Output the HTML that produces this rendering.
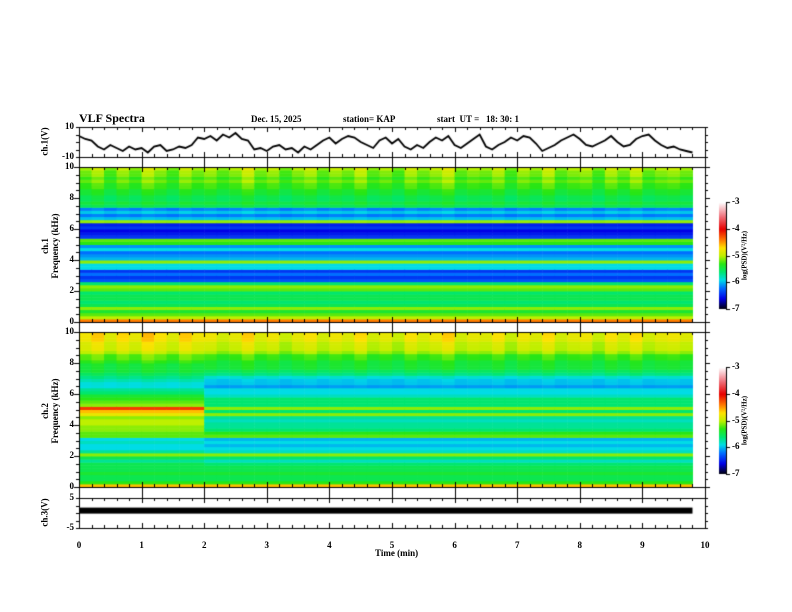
<!DOCTYPE html>
<html><head><meta charset="utf-8">
<style>
html,body{margin:0;padding:0;background:#fff;}
#wrap{position:relative;width:792px;height:612px;overflow:hidden;font-family:"Liberation Serif",serif;font-weight:bold;color:#000;}
.t{position:absolute;white-space:nowrap;font-size:9px;line-height:1;}
.r{transform:rotate(-90deg);transform-origin:center;text-align:center;}
canvas{position:absolute;left:0;top:0;}
</style></head>
<body>
<div id="wrap">
<canvas id="cv" width="792" height="612"></canvas>
<div class="t" style="left:79px;top:112px;font-size:12px;">VLF Spectra</div>
<div class="t" style="left:251px;top:115px;">Dec. 15, 2025</div>
<div class="t" style="left:343px;top:115px;">station= KAP</div>
<div class="t" style="left:437px;top:115px;">start &nbsp;UT = &nbsp; 18: 30: 1</div>
<div class="t r" style="left:20px;top:137px;width:50px;">ch.1(V)</div>
<div class="t r" style="left:0px;top:236px;width:100px;line-height:10px;">ch.1<br>Frequency (kHz)</div>
<div class="t r" style="left:0px;top:401px;width:100px;line-height:10px;">ch.2<br>Frequency (kHz)</div>
<div class="t r" style="left:20px;top:508px;width:50px;">ch.3(V)</div>
<div class="t" style="left:375px;top:549px;">Time (min)</div>
<div class="t r" style="left:710px;top:252px;width:70px;font-size:7px;">log(PSD)(V²/Hz)</div>
<div class="t r" style="left:710px;top:417px;width:70px;font-size:7px;">log(PSD)(V²/Hz)</div>
<div id="labels"></div>
</div>
<script>
// ---- data ----
const timeTicks=[0,1,2,3,4,5,6,7,8,9,10];
const freqTicks=[0,2,4,6,8,10];
const cbTicks=[-3,-4,-5,-6,-7];
// ch1 waveform (V), every 0.1 min from 0 to 9.8
const ch1Wave=[4,2,1,-3,-5,-2,-4,-6,-3,-5,-4,-7,-3,-2,-6,-5,-3,-4,-2,3,2,4,1,5,3,6,2,1,-5,-4,-6,-3,-2,-5,-4,-7,-3,-5,-2,1,3,-1,2,4,3,0,-2,-4,1,3,-1,2,-3,-5,-2,-4,0,3,1,4,-2,-4,-1,2,5,-3,-5,-2,0,3,1,4,3,-1,-6,-4,-2,1,3,5,2,-2,-3,-1,1,4,0,-3,-2,2,4,5,1,-2,-4,-3,-5,-6,-7];
// ch1 PSD profile per 0.2 kHz bin (0..10 kHz), log10
const ch1Psd=[-4.4,-5.0,-5.2,-5.4,-5.1,-5.5,-5.6,-5.5,-5.5,-5.6,-5.2,-5.1,-5.6,-6.3,-6.4,-6.2,-6.4,-5.9,-5.9,-5.1,-6.0,-6.1,-6.2,-5.9,-6.1,-5.3,-5.2,-6.4,-6.5,-6.6,-6.4,-6.5,-5.1,-6.0,-6.2,-6.0,-6.2,-5.6,-5.5,-5.6,-5.6,-5.5,-5.5,-5.4,-5.4,-5.3,-5.4,-5.3,-5.3,-5.2];
// ch2 PSD profile, before and after the 2-min transition
const ch2Early=[-4.6,-5.3,-5.5,-5.5,-5.4,-5.5,-5.5,-5.5,-5.7,-5.5,-5.1,-5.7,-5.9,-5.9,-5.8,-5.9,-5.2,-5.2,-5.1,-5.1,-5.0,-5.0,-5.1,-4.8,-4.6,-4.2,-5.1,-5.2,-5.3,-5.4,-5.6,-5.7,-5.9,-5.9,-5.8,-5.7,-5.6,-5.5,-5.5,-5.5,-5.4,-5.3,-5.3,-5.1,-5.0,-5.0,-5.0,-4.9,-4.9,-4.9];
const ch2Late=[-4.6,-5.3,-5.5,-5.5,-5.4,-5.5,-5.5,-5.6,-5.8,-5.6,-5.1,-5.8,-5.9,-6.0,-5.9,-6.0,-5.2,-5.3,-5.6,-5.7,-5.7,-5.8,-5.7,-5.1,-5.6,-5.1,-5.6,-5.6,-5.6,-5.8,-5.9,-5.9,-6.1,-6.0,-6.0,-5.9,-5.7,-5.6,-5.5,-5.5,-5.5,-5.4,-5.4,-5.2,-5.1,-5.1,-5.1,-5.0,-5.0,-5.0];
const ch2Transition=2.0;
// impulsive activity per 0.2-min column (adds to upper frequencies)
const sferics=[0.3,0.6,0.1,0.5,0.2,0.7,0.4,0.1,0.6,0.3,0.5,0.2,0.4,0.8,0.3,0.5,0.1,0.4,0.6,0.2,0.5,0.3,0.7,0.2,0.4,0.1,0.6,0.3,0.5,0.8,0.2,0.4,0.3,0.6,0.1,0.5,0.3,0.7,0.2,0.4,0.5,0.1,0.6,0.3,0.7,0.2,0.4,0.5,0.3];
const ch3Level=0.8;
const tMax=9.8;

// ---- axes ----
const X0=79,X1=705;
const xs=t=>X0+(X1-X0)*t/10;
const P={w:{top:127,bot:157,min:-10,max:10},s1:{top:167,bot:322},s2:{top:332,bot:487},c3:{top:498,bot:528,min:-5,max:5}};
const yf=(p,f)=>p.bot-(p.bot-p.top)*f/10;
const yv=(p,v)=>p.bot-(p.bot-p.top)*(v-p.min)/(p.max-p.min);

const stops=[[-7,[0,0,0]],[-6.6,[0,0,230]],[-6.2,[0,110,255]],[-5.9,[0,220,230]],[-5.6,[0,230,110]],[-5.3,[40,230,20]],[-5.0,[190,240,0]],[-4.7,[255,225,0]],[-4.4,[255,120,0]],[-4.0,[230,0,0]],[-3.5,[240,120,130]],[-3,[255,255,255]]];
function cmap(v){v=Math.max(-7,Math.min(-3,v));for(let i=1;i<stops.length;i++){if(v<=stops[i][0]){const a=stops[i-1],b=stops[i],k=(v-a[0])/(b[0]-a[0]);return 'rgb('+a[1].map((c,j)=>Math.round(c+(b[1][j]-c)*k)).join(',')+')';}}return 'rgb(255,255,255)';}

const cv=document.getElementById('cv'),g=cv.getContext('2d');
g.fillStyle='#fff';g.fillRect(0,0,792,612);
const nb=ch1Psd.length,df=10/nb,dtc=tMax/sferics.length;
function spec(p,prof){
  for(let c=0;c<sferics.length;c++){
    const t0=c*dtc,x0=xs(t0),x1=xs(t0+dtc);
    for(let b=0;b<nb;b++){
      const f=b*df; const pr=prof(t0,b);
      const v=pr+sferics[c]*Math.max(0,(f-6)/4)*0.5;
      g.fillStyle=cmap(v);
      const ya=yf(p,f+df),yb=yf(p,f);
      g.fillRect(x0,ya,x1-x0+0.5,yb-ya+0.5);
    }
  }
}
spec(P.s1,(t,b)=>ch1Psd[b]);
spec(P.s2,(t,b)=>t<ch2Transition?ch2Early[b]:ch2Late[b]);

// waveform
g.strokeStyle='#000';g.lineWidth=1.8;g.beginPath();
ch1Wave.forEach((v,i)=>{const x=xs(i*0.1),y=yv(P.w,v);i?g.lineTo(x,y):g.moveTo(x,y);});g.stroke();
// ch3 bar
g.fillStyle='#000';const yc=yv(P.c3,ch3Level);g.fillRect(X0,yc-3,xs(tMax)-X0,6);

// frames
g.lineWidth=1;g.strokeStyle='#000';
function hl(y){g.beginPath();g.moveTo(X0,y+0.5);g.lineTo(X1,y+0.5);g.stroke();}
[127,157,167,322,332,487,498,528].forEach(hl);
g.beginPath();g.moveTo(X0+0.5,127);g.lineTo(X0+0.5,528);g.moveTo(X1+0.5,127);g.lineTo(X1+0.5,528);g.stroke();
// time ticks
for(let i=0;i<=100;i+=2){const x=Math.round(xs(i/10))+0.5,maj=i%10===0,L=maj?5:3;
 g.beginPath();
 [[127,1],[157,-1],[167,1],[322,-1],[332,1],[487,-1],[498,1],[528,-1]].forEach(([y,d])=>{g.moveTo(x,y);g.lineTo(x,y+d*L);});
 if(maj){g.moveTo(x,157);g.lineTo(x,167);g.moveTo(x,322);g.lineTo(x,332);g.moveTo(x,487);g.lineTo(x,498);}
 g.stroke();}
// freq ticks
[P.s1,P.s2].forEach(p=>{for(let f=0;f<=10;f+=0.5){const y=Math.round(yf(p,f))+0.5,L=f%2===0?5:3;g.beginPath();g.moveTo(X0-L,y);g.lineTo(X0,y);g.moveTo(X1,y);g.lineTo(X1+L,y);g.stroke();}});
[P.w].forEach(p=>{[-10,-5,0,5,10].forEach(v=>{const y=Math.round(yv(p,v))+0.5;g.beginPath();g.moveTo(X0-3,y);g.lineTo(X0,y);g.moveTo(X1,y);g.lineTo(X1+3,y);g.stroke();});});
[-5,-2.5,0,2.5,5].forEach(v=>{const y=Math.round(yv(P.c3,v))+0.5;g.beginPath();g.moveTo(X0-3,y);g.lineTo(X0,y);g.moveTo(X1,y);g.lineTo(X1+3,y);g.stroke();});
// colorbars
function cbar(top,bot){const x=719,w=7;for(let y=top;y<bot;y++){g.fillStyle=cmap(-3-4*(y-top)/(bot-top));g.fillRect(x,y,w,1);}
 g.beginPath();g.moveTo(x+w+0.5,top);g.lineTo(x+w+0.5,bot);g.stroke();
 cbTicks.forEach(v=>{const y=Math.round(top+(bot-top)*(-3-v)/4)+0.5;g.beginPath();g.moveTo(x+w,y);g.lineTo(x+w+4,y);g.stroke();});}
cbar(202,309);cbar(367,474);

// labels
const L=document.getElementById('labels');
function lab(txt,x,y,name,align){const d=document.createElement('div');d.className='t';d.textContent=txt;d.style.top=(y-5)+'px';
 if(align==='r'){d.style.right=(792-x)+'px';}else if(align==='c'){d.style.left=(x-15)+'px';d.style.width='30px';d.style.textAlign='center';}else{d.style.left=x+'px';}
 
 
 L.appendChild(d);}
timeTicks.forEach(t=>lab(String(t),xs(t),546,'x-tick-label','c'));
freqTicks.forEach(f=>{lab(String(f),74,yf(P.s1,f),'ch1-freq-tick-label','r');lab(String(f),74,yf(P.s2,f),'ch2-freq-tick-label','r');});
lab('10',74,yv(P.w,10),'ch1-volt-tick-label','r');lab('-10',74,yv(P.w,-10),'ch1-volt-tick-label','r');
lab('5',74,yv(P.c3,5),'ch3-volt-tick-label','r');lab('-5',74,yv(P.c3,-5),'ch3-volt-tick-label','r');
cbTicks.forEach(v=>{lab(String(v),732,202+107*(-3-v)/4,'colorbar1-tick-label');lab(String(v),732,367+107*(-3-v)/4,'colorbar2-tick-label');});
</script>
</body></html>
